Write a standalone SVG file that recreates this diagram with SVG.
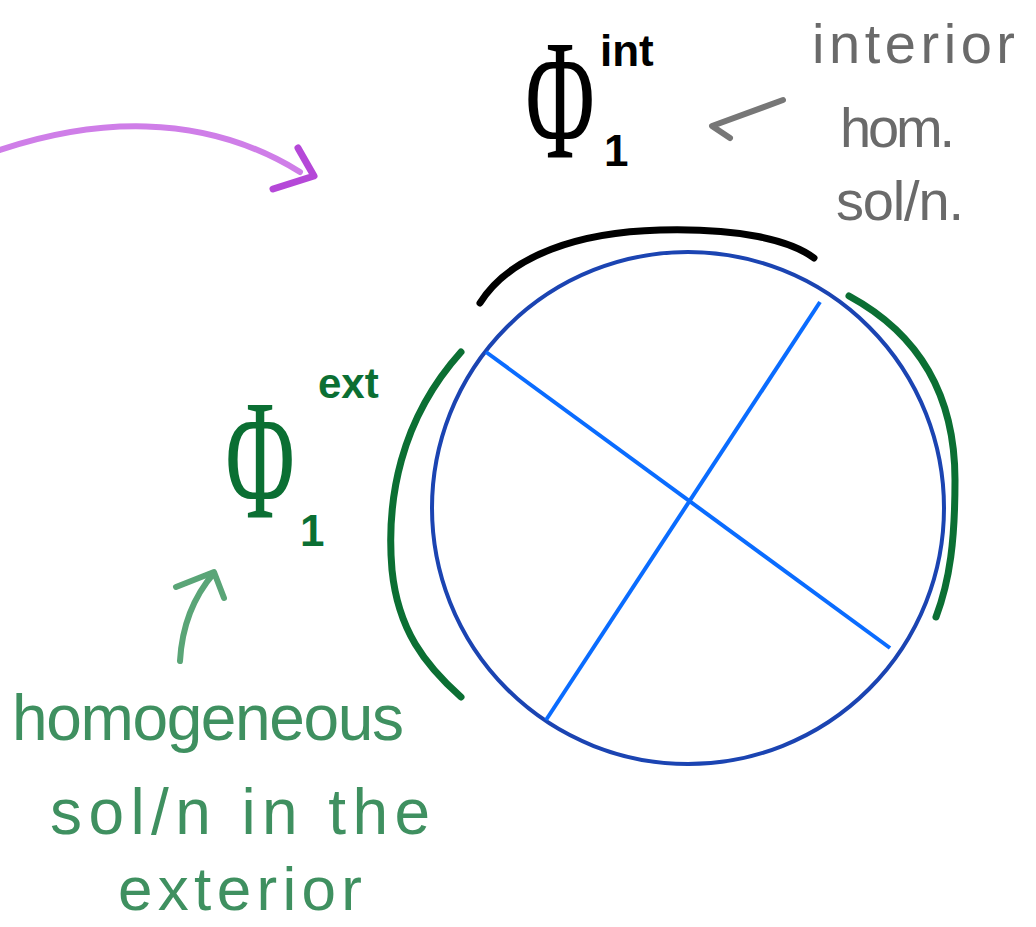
<svg xmlns="http://www.w3.org/2000/svg" width="1036" height="927" viewBox="0 0 1036 927">
<style>
.stroke{fill:none;stroke-linecap:round;stroke-linejoin:round}
.hand{font-family:"Liberation Sans","DejaVu Sans",sans-serif}
.phi{font-family:"Liberation Serif","DejaVu Serif",serif}
.green{fill:#0b6f33}
.lgreen{fill:#3f9060}
.gray{fill:#6a6a6a}
</style>
<rect width="1036" height="927" fill="#ffffff"/>
<g id="purple-arrow">
<path class="stroke" d="M0,150 C90,120 200,110 300,172" stroke="#cf7ee8" stroke-width="6"/>
<path class="stroke" d="M298,148 L314,176 L273,189" stroke="#b548d8" stroke-width="7"/>
</g>
<g id="circle">
<circle cx="688" cy="508" r="256" fill="none" stroke="#1b44b2" stroke-width="4"/>
<line x1="486" y1="352" x2="890" y2="648" stroke="#0a6cff" stroke-width="4"/>
<line x1="820" y1="302" x2="546" y2="720" stroke="#0a6cff" stroke-width="4"/>
</g>
<g id="interior-arc">
<path class="stroke" d="M480,303 C510,255 580,232 660,230 C740,228 790,240 814,258" stroke="#000" stroke-width="7"/>
</g>
<g id="exterior-arcs">
<path class="stroke" d="M849,296 C930,340 955,410 955,480 C955,540 950,580 936,617" stroke="#0b6f33" stroke-width="7"/>
<path class="stroke" d="M461,352 C400,420 386,500 392,570 C398,630 425,665 461,697" stroke="#0b6f33" stroke-width="7"/>
</g>
<g id="phi-int">
<text class="phi" x="560" y="158" font-size="172" text-anchor="middle" transform="translate(560 0) scale(0.55 1) translate(-560 0)">Φ</text>
<text class="hand" x="600" y="66" font-size="44" font-weight="bold">int</text>
<text class="hand" x="604" y="166" font-size="44" font-weight="bold">1</text>
</g>
<g id="interior-label">
<path class="stroke" d="M783,100 L712,126 L730,138" stroke="#777" stroke-width="6"/>
<text class="hand gray" x="812" y="63" font-size="56" textLength="203">interior</text>
<text class="hand gray" x="840" y="147" font-size="56" textLength="115">hom.</text>
<text class="hand gray" x="836" y="220" font-size="56" textLength="128">sol/n.</text>
</g>
<g id="phi-ext">
<text class="phi green" x="260" y="518" font-size="172" text-anchor="middle" transform="translate(260 0) scale(0.55 1) translate(-260 0)">Φ</text>
<text class="hand green" x="318" y="398" font-size="42" font-weight="bold">ext</text>
<text class="hand green" x="300" y="546" font-size="44" font-weight="bold">1</text>
</g>
<g id="exterior-label">
<path class="stroke" d="M180,661 C182,625 195,595 214,573 M176,587 L214,572 L224,598" stroke="#5aa577" stroke-width="6"/>
<text class="hand lgreen" x="12" y="740" font-size="64" textLength="392">homogeneous</text>
<text class="hand lgreen" x="50" y="834" font-size="64" textLength="380">sol/n in the</text>
<text class="hand lgreen" x="118" y="910" font-size="62" textLength="244">exterior</text>
</g>
</svg>
